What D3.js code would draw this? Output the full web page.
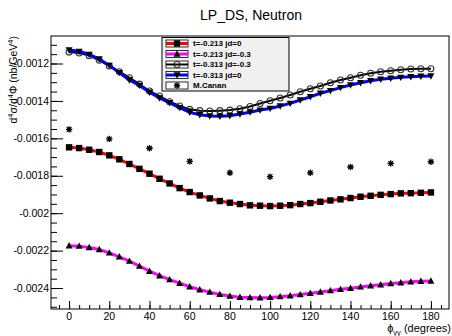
<!DOCTYPE html>
<html><head><meta charset="utf-8">
<script src="https://cdn.jsdelivr.net/npm/d3@7"></script>
<style>body{margin:0;background:#fff}svg{display:block;font-family:"Liberation Sans",Arial,sans-serif}</style>
</head><body><svg id="c" width="452" height="336"></svg>
<script>
const phi = [0,5,10,15,20,25,30,35,40,45,50,55,60,65,70,75,80,85,90,95,100,105,110,115,120,125,130,135,140,145,150,155,160,165,170,175,180];
const redT213jd0 = [-0.001648,-0.001652,-0.001661,-0.001673,-0.001691,-0.001712,-0.001737,-0.001763,-0.001789,-0.001816,-0.001841,-0.001866,-0.001887,-0.001905,-0.001921,-0.001935,-0.001944,-0.001951,-0.001958,-0.001960,-0.001962,-0.001960,-0.001957,-0.001951,-0.001946,-0.001939,-0.001932,-0.001926,-0.001919,-0.001912,-0.001907,-0.001902,-0.001898,-0.001894,-0.001893,-0.001891,-0.001889];
const magT213jd03 = [-0.002174,-0.002176,-0.002183,-0.002194,-0.002212,-0.002233,-0.002256,-0.002283,-0.002310,-0.002334,-0.002355,-0.002374,-0.002393,-0.002409,-0.002422,-0.002434,-0.002443,-0.002449,-0.002451,-0.002452,-0.002450,-0.002446,-0.002441,-0.002435,-0.002428,-0.002421,-0.002414,-0.002407,-0.002401,-0.002394,-0.002388,-0.002382,-0.002376,-0.002372,-0.002367,-0.002364,-0.002362];
const blackT313jd03 = [-0.001139,-0.001144,-0.001158,-0.001183,-0.001213,-0.001244,-0.001276,-0.001310,-0.001347,-0.001374,-0.001404,-0.001427,-0.001445,-0.001452,-0.001454,-0.001452,-0.001449,-0.001442,-0.001430,-0.001414,-0.001399,-0.001384,-0.001368,-0.001351,-0.001335,-0.001320,-0.001303,-0.001288,-0.001276,-0.001263,-0.001252,-0.001244,-0.001239,-0.001233,-0.001229,-0.001228,-0.001228];
const blueT313jd0 = [-0.001128,-0.001135,-0.001151,-0.001176,-0.001210,-0.001249,-0.001288,-0.001317,-0.001354,-0.001384,-0.001410,-0.001436,-0.001461,-0.001474,-0.001481,-0.001482,-0.001479,-0.001470,-0.001460,-0.001449,-0.001440,-0.001427,-0.001413,-0.001395,-0.001378,-0.001359,-0.001345,-0.001329,-0.001315,-0.001303,-0.001292,-0.001284,-0.001279,-0.001274,-0.001271,-0.001268,-0.001267];
const cananPhi = [0,20,40,60,80,100,120,140,160,180];
const cananVal = [-0.001552,-0.001603,-0.001653,-0.001723,-0.001784,-0.001805,-0.001784,-0.001753,-0.001734,-0.001725];
const xTicks = [0,20,40,60,80,100,120,140,160,180];
const yTicks = [-0.0012,-0.0014,-0.0016,-0.0018,-0.002,-0.0022,-0.0024];
const yTickLabels = ["-0.0012","-0.0014","-0.0016","-0.0018","-0.002","-0.0022","-0.0024"];
const legendLabels = ["t=-0.213 jd=0","t=-0.213 jd=-0.3","t=-0.313 jd=-0.3","t=-0.313 jd=0","M.Canan"];

const L=51,R=449,T=36,B=309;
const svg=d3.select("#c");
const x=d3.scaleLinear().domain([-9,189]).range([L,R]);
const y=d3.scaleLinear().domain([-0.002512,-0.001053]).range([B,T]);

svg.append("text").attr("x",251).attr("y",20).attr("text-anchor","middle").attr("font-size",14).text("LP_DS, Neutron");

// axes
const gx=svg.append("g").attr("transform",`translate(0,${B})`);
gx.call(d3.axisTop(x).tickValues(d3.range(-5,186,5)).tickSize(4).tickFormat(""));
gx.call(g=>g.selectAll(".domain").remove());
const gx2=svg.append("g").attr("transform",`translate(0,${B})`);
gx2.call(d3.axisTop(x).tickValues(xTicks).tickSize(8).tickFormat(""));
gx2.call(g=>g.selectAll(".domain").remove());
xTicks.forEach(v=>svg.append("text").attr("x",x(v)).attr("y",319.5).attr("text-anchor","middle").attr("font-size",10.5).text(v));

const minorY=d3.range(-0.0025,-0.00104,0.00005).filter(v=>y(v)>=T&&y(v)<=B);
const gy=svg.append("g").attr("transform",`translate(${L},0)`);
gy.call(d3.axisRight(y).tickValues(minorY).tickSize(6).tickFormat(""));
gy.call(g=>g.selectAll(".domain").remove());
const gy2=svg.append("g").attr("transform",`translate(${L},0)`);
gy2.call(d3.axisRight(y).tickValues(yTicks).tickSize(12).tickFormat(""));
gy2.call(g=>g.selectAll(".domain").remove());
yTicks.forEach((v,i)=>svg.append("text").attr("x",49).attr("y",y(v)).attr("dy","0.35em").attr("text-anchor","end").attr("font-size",10.5).text(yTickLabels[i]));
svg.selectAll(".tick line").attr("stroke","#000");

// axis titles
const yt=svg.append("text").attr("transform","translate(17,36) rotate(-90)").attr("text-anchor","end").attr("font-size",10.5);
yt.append("tspan").text("d");
yt.append("tspan").attr("dy",-4).attr("font-size",7.5).text("4");
yt.append("tspan").attr("dy",4).text("σ/d");
yt.append("tspan").attr("dy",-4).attr("font-size",7.5).text("4");
yt.append("tspan").attr("dy",4).text("Φ (nb/GeV");
yt.append("tspan").attr("dy",-4).attr("font-size",7.5).text("4");
yt.append("tspan").attr("dy",4).text(")");

const xt=svg.append("text").attr("x",451).attr("y",332).attr("text-anchor","end").attr("font-size",11);
xt.append("tspan").text("ϕ");
xt.append("tspan").attr("dy",2.5).attr("font-size",7.5).text("γγ");
xt.append("tspan").attr("dy",-2.5).text(" (degrees)");

// frame
svg.append("rect").attr("x",L).attr("y",T).attr("width",R-L).attr("height",B-T).attr("fill","none").attr("stroke","#000").attr("stroke-width",1);

// markers
function marker(g,type,cx,cy){
  const s=3.2;
  if(type==="square") g.append("rect").attr("x",cx-s).attr("y",cy-s).attr("width",2*s).attr("height",2*s).attr("fill","#000");
  else if(type==="tri") g.append("path").attr("d",`M${cx},${cy-s-0.5}L${cx+s+0.3},${cy+s-0.5}L${cx-s-0.3},${cy+s-0.5}Z`).attr("fill","#000");
  else if(type==="tridown") g.append("path").attr("d",`M${cx},${cy+s+0.5}L${cx+s+0.3},${cy-s+0.5}L${cx-s-0.3},${cy-s+0.5}Z`).attr("fill","#000");
  else if(type==="circle") g.append("circle").attr("cx",cx).attr("cy",cy).attr("r",3).attr("fill","none").attr("stroke","#333").attr("stroke-width",1.1);
  else if(type==="star"){
    const a=3.2,b=2.3;
    g.append("path").attr("d",`M${cx-a},${cy}L${cx+a},${cy}M${cx},${cy-a}L${cx},${cy+a}M${cx-b},${cy-b}L${cx+b},${cy+b}M${cx-b},${cy+b}L${cx+b},${cy-b}`).attr("stroke","#000").attr("stroke-width",1.3);
  }
}
const series=[
  {vals:redT213jd0,color:"#ff0000",w:3,m:"square"},
  {vals:magT213jd03,color:"#ff00ff",w:3,m:"tri"},
  {vals:blackT313jd03,color:"#000000",w:2,m:"circle"},
  {vals:blueT313jd0,color:"#0000ff",w:3,m:"tridown"}
];
const plot=svg.append("g");
const line=d3.line().x(d=>x(d[0])).y(d=>y(d[1])).curve(d3.curveLinear);
series.forEach(s=>{
  const pts=phi.map((p,i)=>[p,s.vals[i]]);
  plot.append("path").attr("d",line(pts)).attr("fill","none").attr("stroke",s.color).attr("stroke-width",s.w);
  const mg=plot.append("g");
  pts.forEach(p=>marker(mg,s.m,x(p[0]),y(p[1])));
});
const cg=plot.append("g");
cananPhi.forEach((p,i)=>marker(cg,"star",x(p),y(cananVal[i])));

// legend
const lg=svg.append("g");
lg.append("rect").attr("x",162).attr("y",37.5).attr("width",127).attr("height",53.5).attr("fill","#f0f0f0").attr("stroke","#000").attr("stroke-width",1);
const legItems=[
  {color:"#ff0000",w:3,m:"square"},
  {color:"#ff00ff",w:3,m:"tri"},
  {color:"#000000",w:2,m:"circle"},
  {color:"#0000ff",w:3,m:"tridown"},
  {color:null,w:0,m:"star"}
];
legItems.forEach((it,i)=>{
  const cy=43.5+i*10.5;
  lg.append("rect").attr("x",166).attr("y",cy-3.5).attr("width",22).attr("height",7).attr("fill","#fff").attr("stroke","#000").attr("stroke-width",0.8);
  if(it.color) lg.append("line").attr("x1",166).attr("x2",188).attr("y1",cy).attr("y2",cy).attr("stroke",it.color).attr("stroke-width",it.w);
  marker(lg,it.m,177,cy);
  lg.append("text").attr("x",193).attr("y",cy).attr("dy","0.35em").attr("font-size",8).attr("font-weight","bold").text(legendLabels[i]);
});
</script></body></html>
